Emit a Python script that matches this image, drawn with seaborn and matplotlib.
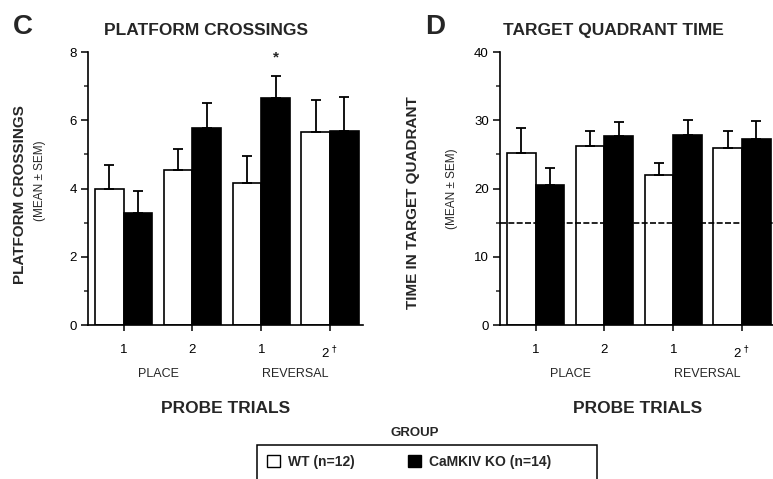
"""Water maze probe trials: platform crossings and target quadrant time."""

import matplotlib

matplotlib.use("Agg")

import matplotlib.pyplot as plt
import pandas as pd
import seaborn as sns
from matplotlib.patches import Rectangle
from matplotlib.ticker import MultipleLocator

PROBES = ["Place 1", "Place 2", "Reversal 1", "Reversal 2"]
TICK_LABELS = ["1", "2", "1", "2$^{\\,\\dagger}$"]
PHASES = ["PLACE", "REVERSAL"]
GROUPS = ["WT (n=12)", "CaMKIV KO (n=14)"]
COLORS = ["white", "black"]

# platform crossings (mean, sem)
CROSS_WT = [4.0, 4.55, 4.17, 5.65]
CROSS_WT_SEM = [0.70, 0.60, 0.79, 0.94]
CROSS_KO = [3.28, 5.78, 6.66, 5.70]
CROSS_KO_SEM = [0.64, 0.74, 0.65, 0.97]
CROSS_KO_SIG = [False, False, True, False]

# time in target quadrant (mean, sem)
QUAD_WT = [25.2, 26.2, 22.0, 25.9]
QUAD_WT_SEM = [3.7, 2.2, 1.8, 2.5]
QUAD_KO = [20.5, 27.7, 27.9, 27.2]
QUAD_KO_SEM = [2.5, 2.1, 2.2, 2.7]
CHANCE = 15.0

sns.set_theme(style="ticks")
plt.rcParams["font.family"] = ["Liberation Sans", "DejaVu Sans"]
plt.rcParams["axes.linewidth"] = 1.2


def draw_panel(ax, wt, wt_sem, ko, ko_sem, ymax, major, ylabel, ylabel_x, ylabel_y,
               sub_y, sig=None):
    frame = pd.DataFrame(
        {
            "probe": PROBES * 2,
            "group": [GROUPS[0]] * 4 + [GROUPS[1]] * 4,
            "value": wt + ko,
            "sem": wt_sem + ko_sem,
        }
    )
    sns.barplot(
        data=frame, x="probe", y="value", hue="group", hue_order=GROUPS,
        palette=COLORS, saturation=1, edgecolor="black", linewidth=1.2,
        width=0.83, gap=0, errorbar=None, ax=ax,
    )
    for container, group in zip(ax.containers, GROUPS):
        sem = frame.loc[frame["group"] == group, "sem"].to_numpy()
        xs = [b.get_x() + b.get_width() / 2 for b in container]
        ys = [b.get_height() for b in container]
        ax.errorbar(xs, ys, yerr=[[0] * len(sem), sem], fmt="none", ecolor="black",
                    elinewidth=1.3, capsize=3.6, capthick=1.3, zorder=1)
        if sig is not None and group == GROUPS[1]:
            for x, y, s, flag in zip(xs, ys, sem, sig):
                if flag:
                    ax.annotate("*", xy=(x, y + s), xytext=(0, 13),
                                textcoords="offset points", ha="center",
                                va="center", fontsize=11, fontweight="bold")

    ax.set_ylim(0, ymax)
    ax.set_xlim(-0.52, 3.48)
    ax.yaxis.set_major_locator(MultipleLocator(major))
    ax.yaxis.set_minor_locator(MultipleLocator(major / 2))
    ax.set_xticks(range(len(PROBES)))
    ax.set_xticklabels(TICK_LABELS)
    ax.tick_params(axis="y", which="major", length=5, width=1.1, pad=3,
                   labelsize=9.5, colors="black")
    ax.tick_params(axis="y", which="minor", length=3, width=1.1)
    ax.tick_params(axis="x", length=4, width=1.1, pad=10, labelsize=9.5,
                   colors="black")
    sns.despine(ax=ax)
    for spine in ax.spines.values():
        spine.set_color("black")

    trans = ax.get_xaxis_transform()
    for i, phase in enumerate(PHASES):
        ax.text(2 * i + 0.5, -0.18, phase, transform=trans, ha="center",
                va="center", fontsize=9)

    ax.set_xlabel("PROBE TRIALS", fontsize=12.5, fontweight="bold")
    ax.xaxis.set_label_coords(0.5, -0.28)
    ax.set_ylabel(ylabel, fontsize=11, fontweight="bold")
    ax.yaxis.set_label_coords(ylabel_x, ylabel_y)
    ax.text(-0.175, sub_y, "(MEAN \u00b1 SEM)", transform=ax.transAxes,
            rotation=90, ha="center", va="center", fontsize=8.5)


fig = plt.figure(figsize=(7.73, 4.79), dpi=100)
ax_c = fig.add_axes([0.1138, 0.3215, 0.3558, 0.5699])
ax_d = fig.add_axes([0.6468, 0.3215, 0.3558, 0.5699])

draw_panel(ax_c, CROSS_WT, CROSS_WT_SEM, CROSS_KO, CROSS_KO_SEM, 8, 2,
           "PLATFORM CROSSINGS", -0.222, 0.476, 0.527, sig=CROSS_KO_SIG)
draw_panel(ax_d, QUAD_WT, QUAD_WT_SEM, QUAD_KO, QUAD_KO_SEM, 40, 10,
           "TIME IN TARGET QUADRANT", -0.291, 0.45, 0.498)
ax_d.axhline(CHANCE, color="black", linewidth=1.2, dashes=(3.6, 1.4), zorder=5)

handles, labels = ax_c.get_legend_handles_labels()
for ax in (ax_c, ax_d):
    if ax.get_legend() is not None:
        ax.get_legend().remove()
for h in handles:
    h.set_edgecolor("black")
    h.set_linewidth(1.0)

fig.legend(
    handles, labels, loc="upper left", bbox_to_anchor=(0.3325, 0.071),
    ncol=2, frameon=False, borderaxespad=0, borderpad=0.7,
    handlelength=0.95, handleheight=0.95, handletextpad=0.6, columnspacing=3.8,
    prop={"size": 10, "weight": "bold"},
)
# legend box runs off the bottom edge of the figure
fig.patches.append(
    Rectangle((0.3325, -0.05), 0.44, 0.121, transform=fig.transFigure,
              fill=False, edgecolor="black", linewidth=1.1)
)

fig.text(0.2665, 0.937, "PLATFORM CROSSINGS", ha="center", va="center",
         fontsize=12.5, fontweight="bold")
fig.text(0.793, 0.937, "TARGET QUADRANT TIME", ha="center", va="center",
         fontsize=12.5, fontweight="bold")
fig.text(0.030, 0.944, "C", ha="center", va="center", fontsize=20, fontweight="bold")
fig.text(0.563, 0.944, "D", ha="center", va="center", fontsize=20, fontweight="bold")
fig.text(0.537, 0.096, "GROUP", ha="center", va="center", fontsize=9.5,
         fontweight="bold")

fig.savefig("out.png", dpi=100)
